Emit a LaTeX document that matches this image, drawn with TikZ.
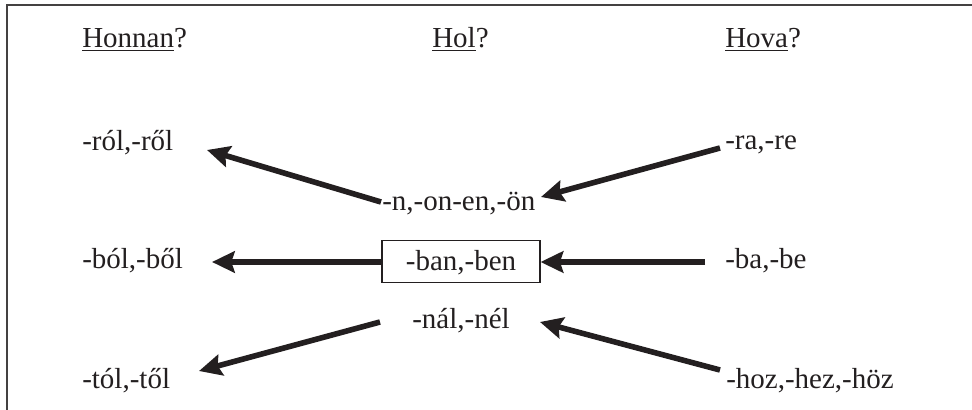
\documentclass[tikz,border=0pt]{standalone}
\usepackage{fontspec}
\setmainfont{Liberation Serif}
\usetikzlibrary{arrows.meta}
\definecolor{ink}{HTML}{231F20}
\tikzset{
  lbl/.style={anchor=base west, inner sep=0pt, text=ink, font=\fontsize{21.75pt}{26pt}\selectfont},
  arr/.style={draw=ink, line width=4.2pt, -{Stealth[length=17pt,width=16pt,inset=2.5pt]}},
  frameline/.style={draw=ink!85, line width=1.5pt},
  boxed/.style={draw=ink, line width=0.9pt, minimum width=118.5pt, minimum height=32pt, inner sep=0pt, text=ink, font=\fontsize{21.75pt}{26pt}\selectfont}
}
\begin{document}
\begin{tikzpicture}[x=0.75pt,y=-0.75pt]
\useasboundingbox (0,0) rectangle (972,410);
\draw[frameline] (7,410) -- (7,5) -- (972,5);
% headings
\node[lbl] (honnan) at (82,48) {\underline{Honnan}?};
\node[lbl] (hol) at (432,48) {\underline{Hol}?};
\node[lbl] (hova) at (725,48) {\underline{Hova}?};
% left column
\node[lbl] (rol) at (82,151) {-ról,-ről};
\node[lbl] (bol) at (82,268) {-ból,-ből};
\node[lbl] (tol) at (82,388) {-tól,-től};
% centre column
\node[lbl] (non) at (382,210) {-n,-on-en,-ön};
\node[boxed, text depth=2pt] (ban) at (461,261.5) {-ban,-ben};
\node[lbl] (nal) at (412,328) {-nál,-nél};
% right column
\node[lbl] (ra) at (725,150) {-ra,-re};
\node[lbl] (ba) at (725,268) {-ba,-be};
\node[lbl] (hoz) at (726,388) {-hoz,-hez,-höz};
% arrow end points
\coordinate (a1s) at (381,202);
\coordinate (a1e) at (207,150);
\coordinate (a2s) at (720,148);
\coordinate (a2e) at (541,197);
\coordinate (a4s) at (705,262);
\coordinate (a3e) at (212,262);
\coordinate (a5s) at (380,322);
\coordinate (a5e) at (199,371);
\coordinate (a6s) at (720,370);
\coordinate (a6e) at (540,322);
\draw[arr] (a1s) -- (a1e);
\draw[arr] (a2s) -- (a2e);
\draw[arr] (ban.west |- a3e) -- (a3e);
\draw[arr] (a4s) -- (ban.east |- a4s);
\draw[arr] (a5s) -- (a5e);
\draw[arr] (a6s) -- (a6e);
\end{tikzpicture}
\end{document}
